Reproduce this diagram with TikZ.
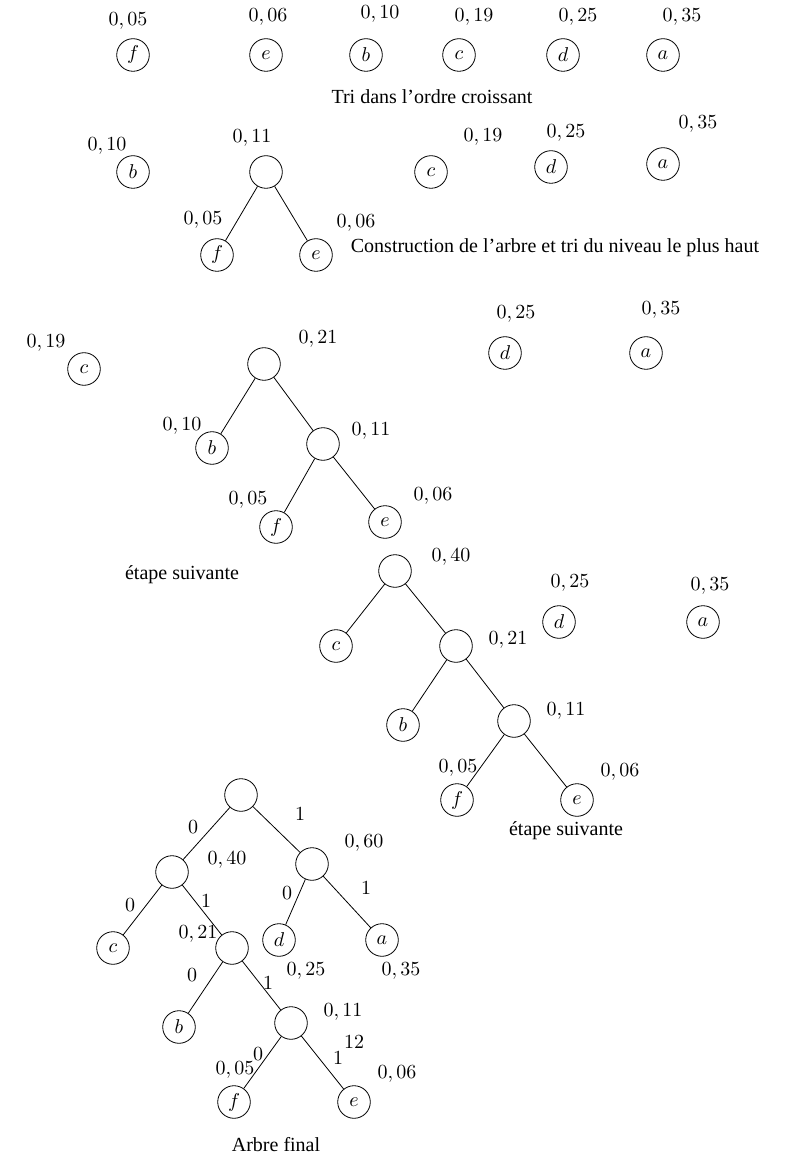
\documentclass[tikz,border=0pt]{standalone}
\usepackage{fontspec}
\setmainfont{Liberation Serif}
\usetikzlibrary{positioning}

\begin{document}
\begin{tikzpicture}[x=0.5pt, y=-0.5pt,
		nd/.style={circle, draw, minimum size=16.3pt, inner sep=0pt},
		val/.style={inner sep=0pt},
		bit/.style={inner sep=0pt},
		txt/.style={inner sep=0pt}]
		\useasboundingbox (0,0) rectangle (787,1154);
		% tri
		\foreach \n/\x/\lx/\ly/\p in {f/133/128/21/05, e/266/268/17/06, b/366/380/14/10, c/459/474/17/19, d/563/578/17/25, a/663/682/17/35} {
			\node[nd] (p\n) at (\x,55) {$\n$};
			\node[val] (vp\n) at (\lx,\ly) {$0,\p$};
		}
		\node[txt] (tri) at (432,97) {Tri dans l'ordre croissant};
		% premier niveau
		\foreach \n/\t/\x/\y/\lx/\ly/\p in {b/b/133/172/107/146/10, n/{}/266/172/252/138/11, f/f/217/255/203/220/05, e/e/316/255/356/223/06, c/c/431/172/483/137/19, d/d/551/167/566/133/25, a/a/663/164/698/124/35} {
			\node[nd] (q\n) at (\x,\y) {$\t$};
			\node[val] (vq\n) at (\lx,\ly) {$0,\p$};
		}
		\draw (qn) -- (qf);
		\draw (qn) -- (qe);
		\node[txt] (constr) at (555,248) {Construction de l'arbre et tri du niveau le plus haut};
		% etape 2
		\foreach \n/\t/\x/\y/\lx/\ly/\p in {c/c/84/369/46/343/19, m/{}/264/364/318/339/21, b/b/212/448/182/426/10, n/{}/323/444/371/431/11, f/f/276/527/248/500/05, e/e/385/522/433/496/06, d/d/505/353/516/314/25, a/a/646/353/661/310/35} {
			\node[nd] (r\n) at (\x,\y) {$\t$};
			\node[val] (vr\n) at (\lx,\ly) {$0,\p$};
		}
		\foreach \u/\v in {m/b, m/n, n/f, n/e}
			\draw (r\u) -- (r\v);
		\node[txt] (suiv1) at (182,575) {étape suivante};
		% etape 3
		\foreach \n/\t/\x/\y/\lx/\ly/\p in {k/{}/395/571/451/557/40, m/{}/456/646/508/640/21, n/{}/514/721/566/711/11, f/f/457/800/458/768/05, e/e/577/800/620/772/06, d/d/559/622/570/583/25, a/a/703/622/710/586/35} {
			\node[nd] (s\n) at (\x,\y) {$\t$};
			\node[val] (vs\n) at (\lx,\ly) {$0,\p$};
		}
		\node[nd] (sc) at (336,646) {$c$};
		\node[nd] (sb) at (403,725) {$b$};
		\foreach \u/\v in {k/c, k/m, m/b, m/n, n/f, n/e}
			\draw (s\u) -- (s\v);
		\node[txt] (suiv2) at (566,831) {étape suivante};
		% arbre final
		\node[nd] (root) at (241,795) {};
		\foreach \n/\t/\x/\y/\lx/\ly/\p in {k/{}/172/872/227/860/40, l/{}/312/864/364/843/60, m/{}/232/948/198/934/21, d/d/279/940/306/971/25, a/a/382/940/401/971/35, n/{}/291/1023/343/1012/11, f/f/234/1102/235/1070/05, e/e/354/1102/397/1074/06} {
			\node[nd] (u\n) at (\x,\y) {$\t$};
			\node[val] (vu\n) at (\lx,\ly) {$0,\p$};
		}
		\node[nd] (uc) at (113,948) {$c$};
		\node[nd] (ub) at (179,1027) {$b$};
		\draw (root) -- (uk);
		\draw (root) -- (ul);
		\foreach \u/\v in {k/c, k/m, l/d, l/a, m/b, m/n, n/f, n/e}
			\draw (u\u) -- (u\v);
		\foreach \b/\x/\y [count=\i] in {0/193/827, 1/300/814, 0/130/905, 1/206/901, 0/287/893, 1/366/888, 0/192/975, 1/268/983, 0/258/1054, 1/338/1058, 12/354/1042}
			\node[bit] (bit\i) at (\x,\y) {$\b$};
		\node[txt] (final) at (276,1145) {Arbre final};
	\end{tikzpicture}
\end{document}
